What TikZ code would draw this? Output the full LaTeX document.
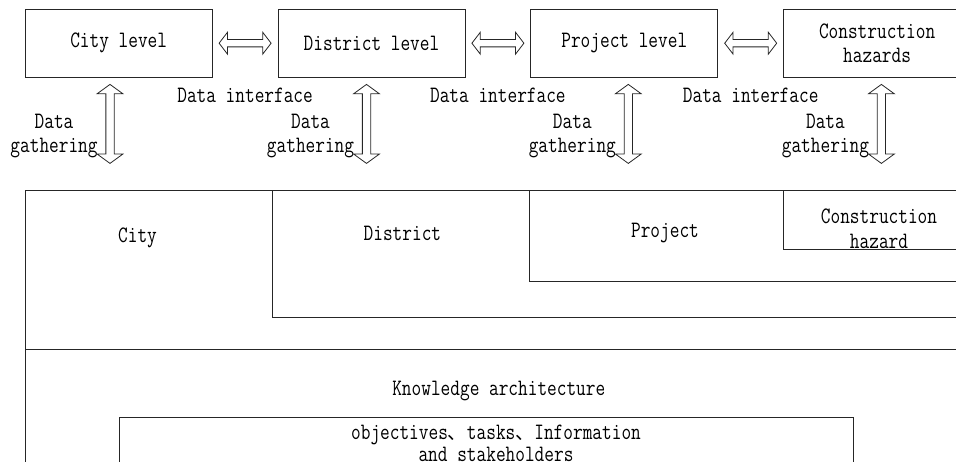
\documentclass[tikz,border=0pt]{standalone}
\usepackage{fontspec}
\setmonofont{Latin Modern Mono}[FakeStretch=0.8]
\newfontfamily\cjk{Noto Sans CJK SC}
\usepackage{tikz}
\usetikzlibrary{shapes,arrows,positioning,calc}

\begin{document}
\begin{tikzpicture}[x=1pt, y=-1pt, font=\ttfamily\fontsize{23.5}{23.3}\selectfont, line width=0.8pt,
    levelbox/.style={draw=black!85, minimum width=187pt, minimum height=68pt, inner sep=0pt, align=center},
    harrow/.style={double arrow, draw=black!85, inner xsep=0pt, inner ysep=3.25pt, minimum height=52pt, double arrow head extend=7.25pt, double arrow tip angle=105},
    varrow/.style={double arrow, draw=black!85, rotate=90, inner xsep=0pt, inner ysep=3.75pt, minimum height=79pt, double arrow head extend=8.75pt, double arrow tip angle=108},
    gatherlbl/.style={align=center, anchor=east, inner sep=0pt}]
    \useasboundingbox (0,0) rectangle (956,461);
    \clip (0,0) rectangle (956,461);
    \node[levelbox] (city) at (118.7,43.2) {City level};
    \node[levelbox, right=65pt of city] (district) {District level};
    \node[levelbox, right=65pt of district] (project) {Project level};
    \node[levelbox, right=65pt of project] (hazards) {Construction\\hazards};
    \node[harrow] (cd) at ($(city.east)!0.5!(district.west)$) {};
    \node[harrow] (dp) at ($(district.east)!0.5!(project.west)$) {};
    \node[harrow] (ph) at ($(project.east)!0.5!(hazards.west)$) {};
    \node (cdlbl) at ($(cd)+(0,52.5)$) {Data interface};
    \node (dplbl) at ($(dp)+(0,52.5)$) {Data interface};
    \node (phlbl) at ($(ph)+(0,52.5)$) {Data interface};
    \node[varrow] (gcity) at ($(city.south)+(-8.7,46.3)$) {};
    \node[varrow] (gdistrict) at ($(district.south)+(-5,46.3)$) {};
    \node[varrow] (gproject) at ($(project.south)+(4,46.3)$) {};
    \node[varrow] (ghazards) at ($(hazards.south)+(4.3,46.3)$) {};
    \node[gatherlbl] (gcitylbl) at ($(gcity)+(-12,12)$) {Data\\gathering};
    \node[gatherlbl] (gdistrictlbl) at ($(gdistrict)+(-12,12)$) {Data\\gathering};
    \node[gatherlbl] (gprojectlbl) at ($(gproject)+(-12,12)$) {Data\\gathering};
    \node[gatherlbl] (ghazardslbl) at ($(ghazards)+(-12,12)$) {Data\\gathering};
    \draw[black!85] (25.5,190.7) rectangle (990,490);
    \draw[black!85] (25.5,349) -- (990,349);
    \draw[black!85] (990,317.7) -| (272.6,190.7);
    \draw[black!85] (990,281.7) -| (529,190.7);
    \draw[black!85] (990,249) -| (783,190.7);
    \draw[black!85] (119,490) |- (853.7,417.7) -- (853.7,490);
    \node (citytxt) at (137.5,237.5) {City};
    \node (districttxt) at (402.4,233.2) {District};
    \node (projecttxt) at (665,233.2) {Project};
    \node[align=center] (hazardtxt) at (879,229) {Construction\\[1.7pt]hazard};
    \node (knowledge) at (498.8,391.5) {Knowledge architecture};
    \node[align=center] (objectives) at (496,443) {objectives{\cjk\fontsize{19}{19}\selectfont 、}tasks{\cjk\fontsize{19}{19}\selectfont 、}Information\\[-1pt]and stakeholders};
\end{tikzpicture}
\end{document}
